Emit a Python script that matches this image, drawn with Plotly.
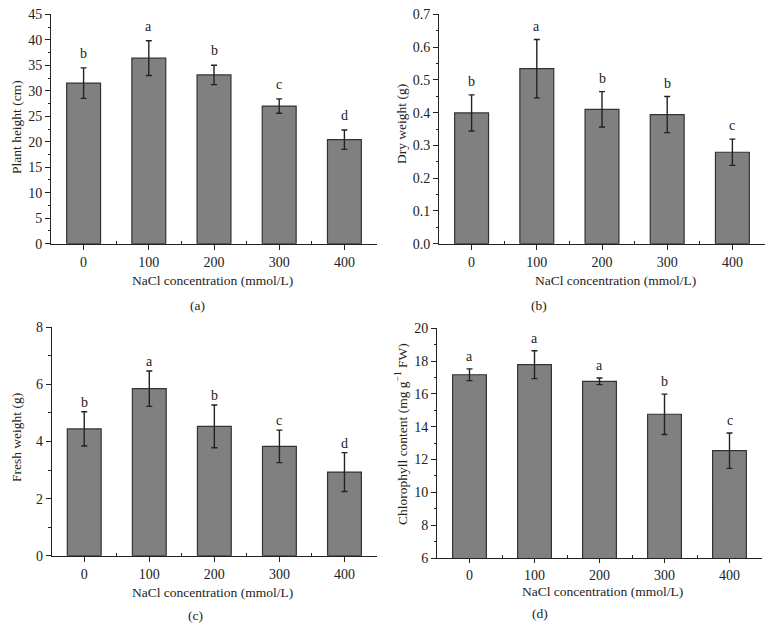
import plotly.graph_objects as go

# The page body adds an 8px margin, so the figure is sized to fit inside the window
OFF = 8
W, H = 774 - OFF, 632 - OFF

categories = ["0", "100", "200", "300", "400"]

height_vals = [31.5, 36.4, 33.1, 27.0, 20.4]
height_err = [3.0, 3.4, 1.9, 1.4, 1.9]
height_letters = ["b", "a", "b", "c", "d"]

dry_vals = [0.399, 0.534, 0.410, 0.394, 0.279]
dry_err = [0.055, 0.089, 0.054, 0.055, 0.040]
dry_letters = ["b", "a", "b", "b", "c"]

fresh_vals = [4.44, 5.85, 4.53, 3.83, 2.93]
fresh_err = [0.60, 0.62, 0.75, 0.57, 0.68]
fresh_letters = ["b", "a", "b", "c", "d"]

chl_vals = [17.17, 17.78, 16.77, 14.76, 12.54]
chl_err = [0.36, 0.85, 0.20, 1.23, 1.08]
chl_letters = ["a", "a", "a", "b", "c"]

FONT = "Liberation Serif"
INK = "#222222"

def px_x(x):
    return (x - OFF) / W

def px_y(y):
    return 1 - (y - OFF) / H

panels = [
    dict(vals=height_vals, err=height_err, letters=height_letters,
         ytitle="Plant height (cm)", yrange=[0, 45], dtick=5, minor=2.5, tickformat="d",
         xdom=[51, 377], ydom=[14.3, 243.7], xrange=[-0.5, 4.5], lshift=5, xticklen=5,
         ytitle_pos=(16, 127), xtitle_pos=(212, 280), label="(a)", label_pos=(197, 305)),
    dict(vals=dry_vals, err=dry_err, letters=dry_letters,
         ytitle="Dry weight (g)", yrange=[0, 0.7], dtick=0.1, minor=0.05, tickformat=".1f",
         xdom=[439, 765], ydom=[14.3, 243.7], xrange=[-0.5, 4.5], lshift=4, xticklen=5,
         ytitle_pos=(401, 124), xtitle_pos=(615, 280), label="(b)", label_pos=(539, 305)),
    dict(vals=fresh_vals, err=fresh_err, letters=fresh_letters,
         ytitle="Fresh weight (g)", yrange=[0, 8], dtick=2, minor=1, tickformat="d",
         xdom=[51.7, 377], ydom=[327.3, 555.7], xrange=[-0.5, 4.5], lshift=0, xticklen=5,
         ytitle_pos=(16, 438), xtitle_pos=(212, 592), label="(c)", label_pos=(195, 615)),
    dict(vals=chl_vals, err=chl_err, letters=chl_letters,
         ytitle="Chlorophyll content (mg g<sup>\u22121</sup> FW)", yrange=[6, 20], dtick=2, minor=1, tickformat="d",
         xdom=[437, 762], ydom=[328.3, 558], xrange=[-0.5, 4.5], lshift=3, xticklen=4,
         ytitle_pos=(401, 434), xtitle_pos=(602, 591), label="(d)", label_pos=(540, 613)),
]

fig = go.Figure()
xpos = list(range(len(categories)))
annotations = []
layout = {}

for i, p in enumerate(panels):
    n = "" if i == 0 else str(i + 1)
    xa, ya = "x" + n, "y" + n
    fig.add_trace(go.Bar(
        x=xpos, y=p["vals"], width=0.52,
        marker=dict(color="#808080", line=dict(color="#333333", width=1.2)),
        error_y=dict(type="data", array=p["err"], visible=True,
                     color=INK, thickness=1.4, width=3),
        xaxis=xa, yaxis=ya, showlegend=False, hoverinfo="skip",
    ))
    layout["xaxis" + n] = dict(
        domain=[px_x(p["xdom"][0]), px_x(p["xdom"][1])],
        anchor=ya, range=p["xrange"], automargin=False, ticklabeloverflow="allow",
        tickmode="array", tickvals=xpos, ticktext=categories,
        ticks="outside", ticklen=p["xticklen"], tickwidth=1, tickcolor=INK,
        showline=True, linecolor=INK, linewidth=1, mirror=False,
        showgrid=False, zeroline=False,
        minor=dict(tickmode="array", tickvals=[k + 0.5 for k in xpos[:-1]],
                   ticks="inside", ticklen=3, tickcolor=INK, showgrid=False),
        tickfont=dict(family=FONT, size=14, color=INK),
        fixedrange=True,
    )
    layout["yaxis" + n] = dict(
        domain=[px_y(p["ydom"][1]), px_y(p["ydom"][0])],
        anchor=xa, range=p["yrange"], automargin=False, ticklabeloverflow="allow",
        tick0=p["yrange"][0], dtick=p["dtick"], tickformat=p["tickformat"],
        ticks="outside", ticklen=5, tickwidth=1, tickcolor=INK,
        showline=True, linecolor=INK, linewidth=1, mirror=False,
        showgrid=False, zeroline=False,
        minor=dict(dtick=p["minor"], ticks="outside", ticklen=2.5, tickcolor=INK, showgrid=False),
        tickfont=dict(family=FONT, size=14, color=INK),
        fixedrange=True,
    )
    for k, (v, e, L) in enumerate(zip(p["vals"], p["err"], p["letters"])):
        annotations.append(dict(
            x=k, y=v + e, xref=xa, yref=ya, text=L, showarrow=False,
            yanchor="bottom", yshift=p["lshift"],
            font=dict(family=FONT, size=14, color=INK),
        ))
    annotations.append(dict(
        x=px_x(p["ytitle_pos"][0]), y=px_y(p["ytitle_pos"][1]), xref="paper", yref="paper",
        text=p["ytitle"], textangle=-90, showarrow=False,
        xanchor="center", yanchor="middle",
        font=dict(family=FONT, size=13.5, color=INK),
    ))
    annotations.append(dict(
        x=px_x(p["xtitle_pos"][0]), y=px_y(p["xtitle_pos"][1]), xref="paper", yref="paper",
        text="NaCl concentration (mmol/L)", showarrow=False,
        xanchor="center", yanchor="middle",
        font=dict(family=FONT, size=13.5, color=INK),
    ))
    annotations.append(dict(
        x=px_x(p["label_pos"][0]), y=px_y(p["label_pos"][1]), xref="paper", yref="paper",
        text=p["label"], showarrow=False,
        xanchor="center", yanchor="middle",
        font=dict(family=FONT, size=13.5, color=INK),
    ))

fig.update_layout(
    template="none",
    width=W, height=H,
    margin=dict(l=0, r=0, t=0, b=0, autoexpand=False),
    paper_bgcolor="white", plot_bgcolor="white",
    annotations=annotations,
    showlegend=False,
    **layout,
)

fig.write_html("out.html")
